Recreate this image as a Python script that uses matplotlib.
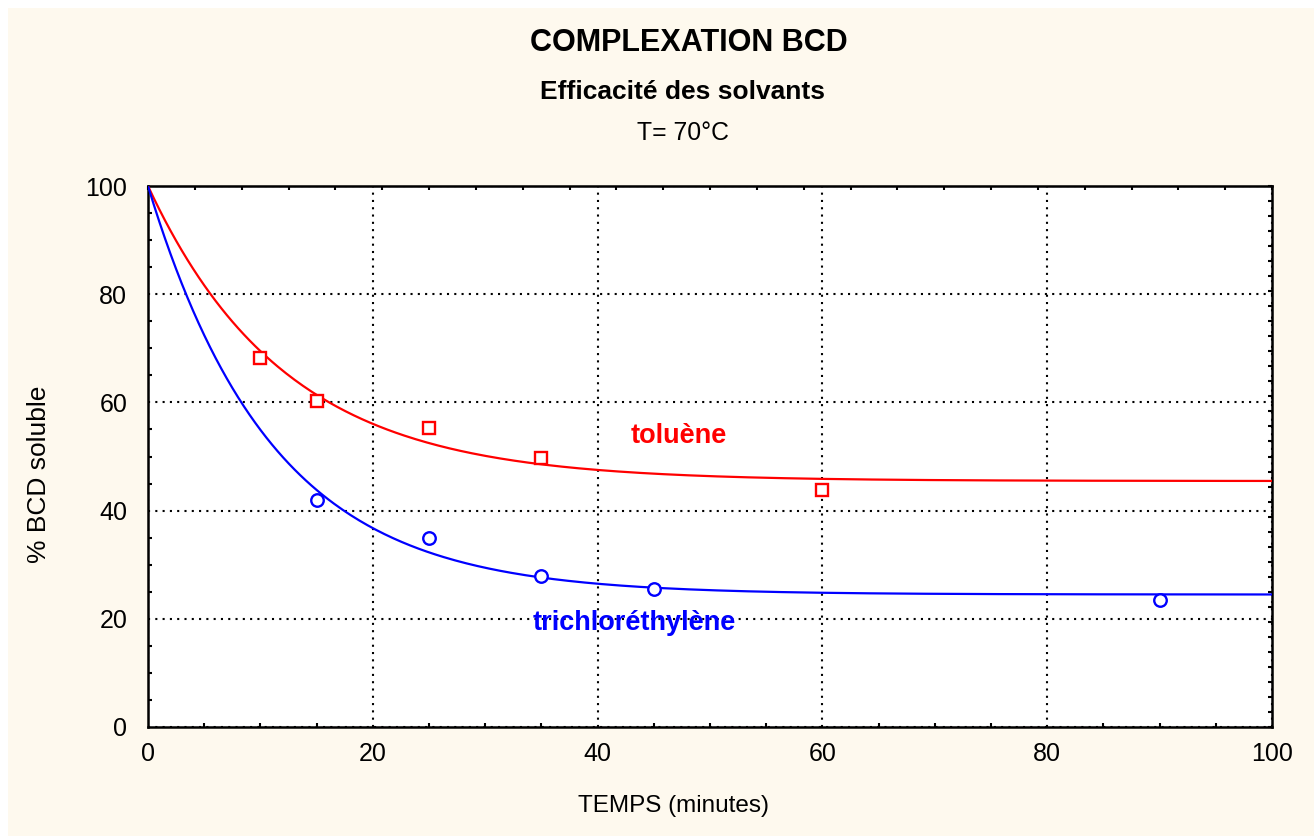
import numpy as np
import matplotlib
matplotlib.use("Agg")
import matplotlib.pyplot as plt
from matplotlib.patches import Rectangle

plt.rcParams['font.family'] = ['Liberation Sans', 'DejaVu Sans']

# ---- data ----
toluene_t = [10, 15, 25, 35, 60]
toluene_y = [68.2, 60.3, 55.3, 49.7, 43.8]
tce_t = [15, 25, 35, 45, 90]
tce_y = [42.0, 34.9, 27.9, 25.5, 23.5]

x_ticks = [0, 20, 40, 60, 80, 100]
y_ticks = [0, 20, 40, 60, 80, 100]

title = "COMPLEXATION BCD"
subtitle = "Efficacité des solvants"
subtitle2 = "T= 70°C"
xlabel = "TEMPS (minutes)"
ylabel = "% BCD soluble"


def fit_decay(t, y, y0=100.0):
    """Least-squares fit of y = a + (y0 - a) * exp(-k t)."""
    t = np.asarray(t, float)
    y = np.asarray(y, float)
    best = None
    for k in np.linspace(0.005, 0.5, 5000):
        e = np.exp(-k * t)
        u = 1 - e
        a = np.sum((y - y0 * e) * u) / np.sum(u * u)
        r = np.sum((a + (y0 - a) * e - y) ** 2)
        if best is None or r < best[0]:
            best = (r, a, k)
    _, a, k = best
    return lambda tt: a + (y0 - a) * np.exp(-k * tt)


W, H = 1314, 836
fig = plt.figure(figsize=(W / 100, H / 100), dpi=100, facecolor='white')
bg = Rectangle((8 / W, 0), 1 - 8 / W, 1 - 8 / H, transform=fig.transFigure,
               facecolor='#FEF9EE', edgecolor='none', zorder=-10)
fig.patches.append(bg)

L, R, T, B = 148, 1272, 186, 727
ax = fig.add_axes([L / W, 1 - B / H, (R - L) / W, (B - T) / H])
ax.set_zorder(1)
ax.set_facecolor('white')
ax.set_xlim(0, 100)
ax.set_ylim(0, 100)

tt = np.linspace(0, 100, 400)
f_tol = fit_decay(toluene_t, toluene_y)
f_tce = fit_decay(tce_t, tce_y)
ax.plot(tt, f_tol(tt), color='#FF0000', lw=1.6, zorder=3)
ax.plot(tt, f_tce(tt), color='#0000FF', lw=1.6, zorder=3)
ax.plot(toluene_t, toluene_y, ls='none', marker='s', ms=9, mfc='white', mec='#FF0000', mew=1.7, zorder=4)
ax.plot(tce_t, tce_y, ls='none', marker='o', ms=9, mfc='white', mec='#0000FF', mew=1.7, zorder=4)

ax.text(47.2, 53.8, "toluène", color='#FF0000', fontsize=19.5, fontweight='bold', ha='center', va='center')
ax.text(43.3, 19.2, "trichloréthylène", color='#0000FF', fontsize=19.5, fontweight='bold', ha='center', va='center')

ax.set_xticks(x_ticks)
ax.set_yticks(y_ticks)
ax.set_xticklabels([str(v) for v in x_ticks], fontsize=18)
ax.set_yticklabels([str(v) for v in y_ticks], fontsize=18)
ax.set_xticks(np.arange(0, 101, 5), minor=True)
ax.set_yticks(np.arange(0, 101, 5), minor=True)
ax.tick_params(which='major', direction='in', length=0)
ax.tick_params(axis='x', which='major', pad=11)
ax.tick_params(axis='y', which='major', pad=15)
ax.tick_params(which='minor', direction='in', length=3, width=1.5)
ax.grid(True, which='major', color='black', linestyle=(0, (1, 2.5)), lw=1.5)
for s in ax.spines.values():
    s.set_linewidth(1.8)
    s.set_color('black')

top = ax.secondary_xaxis('top')
top.set_xticks(np.arange(0, 100.01, 100 / 24))
top.tick_params(direction='in', length=3, width=1.5, labeltop=False)
right = ax.secondary_yaxis('right')
right.set_yticks(np.arange(0, 100.01, 100 / 36))
right.tick_params(direction='in', length=3, width=1.5, labelright=False)

fig.text(673 / W, 1 - 806 / H, xlabel, fontsize=17.5, ha='center', va='center')
fig.text(39 / W, 1 - 474 / H, ylabel, fontsize=19, ha='center', va='center', rotation=90)

fig.text(689 / W, 1 - 43 / H, title, fontsize=22, fontweight='bold', ha='center', va='center')
fig.text(682 / W, 1 - 92 / H, subtitle, fontsize=19, fontweight='bold', ha='center', va='center')
fig.text(683 / W, 1 - 133 / H, subtitle2, fontsize=17.8, ha='center', va='center')

fig.savefig("out.png", dpi=100, facecolor=fig.get_facecolor())
